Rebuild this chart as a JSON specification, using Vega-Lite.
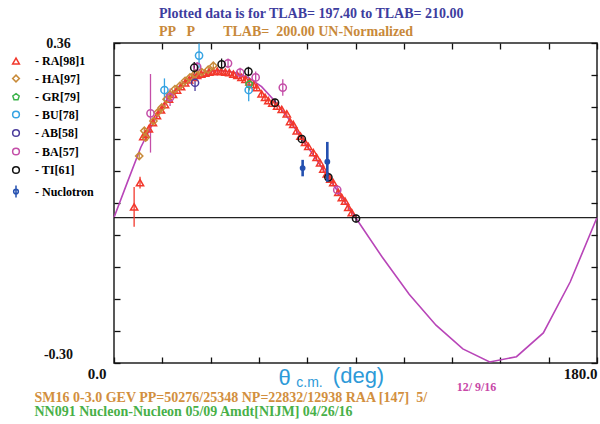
{
  "$schema": "https://vega.github.io/schema/vega-lite/v6.json",
  "width": 483,
  "height": 320,
  "autosize": {"type": "none"},
  "padding": {"left": 114, "top": 43, "right": 3, "bottom": 61},
  "background": "white",
  "title": {
    "text": "Plotted data is for TLAB= 197.40 to TLAB= 210.00",
    "subtitle": "PP\u00a0\u00a0\u00a0P\u00a0\u00a0\u00a0\u00a0\u00a0\u00a0\u00a0\u00a0TLAB=\u00a0\u00a0200.00 UN-Normalized",
    "anchor": "start", "frame": "group", "dx": 45, "offset": -3,
    "font": "Liberation Serif", "fontSize": 14, "fontWeight": "bold", "color": "#3d3d9e",
    "subtitleFont": "Liberation Serif", "subtitleFontSize": 14, "subtitleFontWeight": "bold",
    "subtitleColor": "#c8893a", "subtitlePadding": 4
  },
  "datasets": {
    "curve": [
      {"t": 0, "v": 0.0}, {"t": 5, "v": 0.073}, {"t": 10, "v": 0.145}, {"t": 15, "v": 0.2},
      {"t": 20, "v": 0.245}, {"t": 25, "v": 0.275}, {"t": 30, "v": 0.293}, {"t": 35, "v": 0.302},
      {"t": 40, "v": 0.303}, {"t": 45, "v": 0.299}, {"t": 50, "v": 0.289}, {"t": 55, "v": 0.27},
      {"t": 60, "v": 0.24}, {"t": 65, "v": 0.204}, {"t": 70, "v": 0.163}, {"t": 75, "v": 0.123},
      {"t": 80, "v": 0.082}, {"t": 85, "v": 0.041}, {"t": 90, "v": 0.0}, {"t": 100, "v": -0.082},
      {"t": 110, "v": -0.158}, {"t": 120, "v": -0.222}, {"t": 130, "v": -0.271}, {"t": 140, "v": -0.298},
      {"t": 150, "v": -0.287}, {"t": 160, "v": -0.238}, {"t": 170, "v": -0.133}, {"t": 180, "v": 0.0}
    ],
    "pts": [
      {"set": "RA[98]1", "t": 7.5, "v": 0.022, "lo": -0.019, "hi": 0.063},
      {"set": "RA[98]1", "t": 9.7, "v": 0.072, "lo": 0.06, "hi": 0.084},
      {"set": "RA[98]1", "t": 10.9, "v": 0.167, "lo": 0.161, "hi": 0.173},
      {"set": "RA[98]1", "t": 11.8, "v": 0.172, "lo": 0.166, "hi": 0.178},
      {"set": "RA[98]1", "t": 13.0, "v": 0.183, "lo": 0.177, "hi": 0.189},
      {"set": "RA[98]1", "t": 14.5, "v": 0.196, "lo": 0.19, "hi": 0.202},
      {"set": "RA[98]1", "t": 16.0, "v": 0.21, "lo": 0.204, "hi": 0.216},
      {"set": "RA[98]1", "t": 17.5, "v": 0.222, "lo": 0.216, "hi": 0.228},
      {"set": "RA[98]1", "t": 19.0, "v": 0.233, "lo": 0.227, "hi": 0.239},
      {"set": "RA[98]1", "t": 20.5, "v": 0.244, "lo": 0.238, "hi": 0.25},
      {"set": "RA[98]1", "t": 22.0, "v": 0.254, "lo": 0.248, "hi": 0.26},
      {"set": "RA[98]1", "t": 23.5, "v": 0.263, "lo": 0.257, "hi": 0.269},
      {"set": "RA[98]1", "t": 25.0, "v": 0.27, "lo": 0.264, "hi": 0.276},
      {"set": "RA[98]1", "t": 26.5, "v": 0.278, "lo": 0.272, "hi": 0.284},
      {"set": "RA[98]1", "t": 28.0, "v": 0.284, "lo": 0.278, "hi": 0.29},
      {"set": "RA[98]1", "t": 29.5, "v": 0.289, "lo": 0.283, "hi": 0.295},
      {"set": "RA[98]1", "t": 31.0, "v": 0.293, "lo": 0.287, "hi": 0.299},
      {"set": "RA[98]1", "t": 32.5, "v": 0.296, "lo": 0.29, "hi": 0.302},
      {"set": "RA[98]1", "t": 34.0, "v": 0.298, "lo": 0.292, "hi": 0.304},
      {"set": "RA[98]1", "t": 35.5, "v": 0.3, "lo": 0.294, "hi": 0.306},
      {"set": "RA[98]1", "t": 37.0, "v": 0.301, "lo": 0.295, "hi": 0.307},
      {"set": "RA[98]1", "t": 38.5, "v": 0.302, "lo": 0.296, "hi": 0.308},
      {"set": "RA[98]1", "t": 40.0, "v": 0.301, "lo": 0.295, "hi": 0.307},
      {"set": "RA[98]1", "t": 41.5, "v": 0.3, "lo": 0.294, "hi": 0.306},
      {"set": "RA[98]1", "t": 43.0, "v": 0.299, "lo": 0.293, "hi": 0.305},
      {"set": "RA[98]1", "t": 44.5, "v": 0.296, "lo": 0.29, "hi": 0.302},
      {"set": "RA[98]1", "t": 46.0, "v": 0.293, "lo": 0.287, "hi": 0.299},
      {"set": "RA[98]1", "t": 47.5, "v": 0.289, "lo": 0.283, "hi": 0.295},
      {"set": "RA[98]1", "t": 49.0, "v": 0.285, "lo": 0.279, "hi": 0.291},
      {"set": "RA[98]1", "t": 50.5, "v": 0.28, "lo": 0.274, "hi": 0.286},
      {"set": "RA[98]1", "t": 52.0, "v": 0.274, "lo": 0.268, "hi": 0.28},
      {"set": "RA[98]1", "t": 53.2, "v": 0.268, "lo": 0.262, "hi": 0.274},
      {"set": "RA[98]1", "t": 55.0, "v": 0.255, "lo": 0.249, "hi": 0.261},
      {"set": "RA[98]1", "t": 56.3, "v": 0.248, "lo": 0.242, "hi": 0.254},
      {"set": "RA[98]1", "t": 57.5, "v": 0.241, "lo": 0.235, "hi": 0.247},
      {"set": "RA[98]1", "t": 59.0, "v": 0.236, "lo": 0.23, "hi": 0.242},
      {"set": "RA[98]1", "t": 60.8, "v": 0.23, "lo": 0.224, "hi": 0.236},
      {"set": "RA[98]1", "t": 62.5, "v": 0.223, "lo": 0.217, "hi": 0.229},
      {"set": "RA[98]1", "t": 64.4, "v": 0.214, "lo": 0.208, "hi": 0.22},
      {"set": "RA[98]1", "t": 65.6, "v": 0.198, "lo": 0.192, "hi": 0.204},
      {"set": "RA[98]1", "t": 66.8, "v": 0.192, "lo": 0.186, "hi": 0.198},
      {"set": "RA[98]1", "t": 68.1, "v": 0.179, "lo": 0.173, "hi": 0.185},
      {"set": "RA[98]1", "t": 69.5, "v": 0.168, "lo": 0.162, "hi": 0.174},
      {"set": "RA[98]1", "t": 71.2, "v": 0.155, "lo": 0.149, "hi": 0.161},
      {"set": "RA[98]1", "t": 72.4, "v": 0.147, "lo": 0.141, "hi": 0.153},
      {"set": "RA[98]1", "t": 74.3, "v": 0.134, "lo": 0.128, "hi": 0.14},
      {"set": "RA[98]1", "t": 75.5, "v": 0.124, "lo": 0.118, "hi": 0.13},
      {"set": "RA[98]1", "t": 76.8, "v": 0.113, "lo": 0.107, "hi": 0.119},
      {"set": "RA[98]1", "t": 78.0, "v": 0.1, "lo": 0.094, "hi": 0.106},
      {"set": "RA[98]1", "t": 79.3, "v": 0.09, "lo": 0.084, "hi": 0.096},
      {"set": "RA[98]1", "t": 80.6, "v": 0.079, "lo": 0.073, "hi": 0.085},
      {"set": "RA[98]1", "t": 81.7, "v": 0.072, "lo": 0.066, "hi": 0.078},
      {"set": "RA[98]1", "t": 83.6, "v": 0.052, "lo": 0.046, "hi": 0.058},
      {"set": "RA[98]1", "t": 84.9, "v": 0.041, "lo": 0.035, "hi": 0.047},
      {"set": "RA[98]1", "t": 86.1, "v": 0.034, "lo": 0.028, "hi": 0.04},
      {"set": "RA[98]1", "t": 87.3, "v": 0.021, "lo": 0.015, "hi": 0.027},
      {"set": "RA[98]1", "t": 88.6, "v": 0.01, "lo": 0.004, "hi": 0.016},
      {"set": "HA[97]", "t": 9.4, "v": 0.127, "lo": 0.121, "hi": 0.133},
      {"set": "HA[97]", "t": 11.3, "v": 0.179, "lo": 0.173, "hi": 0.185},
      {"set": "HA[97]", "t": 11.8, "v": 0.165, "lo": 0.159, "hi": 0.171},
      {"set": "HA[97]", "t": 14.7, "v": 0.199, "lo": 0.193, "hi": 0.205},
      {"set": "HA[97]", "t": 16.3, "v": 0.217, "lo": 0.211, "hi": 0.223},
      {"set": "HA[97]", "t": 17.8, "v": 0.227, "lo": 0.221, "hi": 0.233},
      {"set": "HA[97]", "t": 19.6, "v": 0.244, "lo": 0.238, "hi": 0.25},
      {"set": "HA[97]", "t": 20.9, "v": 0.254, "lo": 0.248, "hi": 0.26},
      {"set": "HA[97]", "t": 22.7, "v": 0.265, "lo": 0.259, "hi": 0.271},
      {"set": "HA[97]", "t": 24.6, "v": 0.272, "lo": 0.266, "hi": 0.278},
      {"set": "HA[97]", "t": 26.5, "v": 0.282, "lo": 0.276, "hi": 0.288},
      {"set": "HA[97]", "t": 28.3, "v": 0.289, "lo": 0.283, "hi": 0.295},
      {"set": "HA[97]", "t": 30.2, "v": 0.296, "lo": 0.29, "hi": 0.302},
      {"set": "HA[97]", "t": 32.7, "v": 0.3, "lo": 0.294, "hi": 0.306},
      {"set": "HA[97]", "t": 35.1, "v": 0.305, "lo": 0.299, "hi": 0.311},
      {"set": "HA[97]", "t": 37.0, "v": 0.313, "lo": 0.307, "hi": 0.319},
      {"set": "GR[79]", "t": 50.4, "v": 0.275, "lo": 0.262, "hi": 0.288},
      {"set": "BU[78]", "t": 18.8, "v": 0.263, "lo": 0.239, "hi": 0.287},
      {"set": "BU[78]", "t": 31.7, "v": 0.334, "lo": 0.309, "hi": 0.359},
      {"set": "BU[78]", "t": 50.2, "v": 0.263, "lo": 0.24, "hi": 0.286},
      {"set": "AB[58]", "t": 30.2, "v": 0.278, "lo": 0.261, "hi": 0.295},
      {"set": "BA[57]", "t": 13.6, "v": 0.215, "lo": 0.134, "hi": 0.296},
      {"set": "BA[57]", "t": 20.9, "v": 0.248, "lo": 0.23, "hi": 0.266},
      {"set": "BA[57]", "t": 31.0, "v": 0.311, "lo": 0.301, "hi": 0.321},
      {"set": "BA[57]", "t": 42.5, "v": 0.318, "lo": 0.308, "hi": 0.328},
      {"set": "BA[57]", "t": 47.0, "v": 0.299, "lo": 0.289, "hi": 0.309},
      {"set": "BA[57]", "t": 52.8, "v": 0.289, "lo": 0.277, "hi": 0.301},
      {"set": "BA[57]", "t": 62.9, "v": 0.268, "lo": 0.251, "hi": 0.285},
      {"set": "BA[57]", "t": 83.2, "v": 0.057, "lo": 0.047, "hi": 0.067},
      {"set": "TI[61]", "t": 29.9, "v": 0.309, "lo": 0.297, "hi": 0.321},
      {"set": "TI[61]", "t": 40.1, "v": 0.316, "lo": 0.304, "hi": 0.328},
      {"set": "TI[61]", "t": 50.1, "v": 0.301, "lo": 0.291, "hi": 0.311},
      {"set": "TI[61]", "t": 60.0, "v": 0.237, "lo": 0.229, "hi": 0.245},
      {"set": "TI[61]", "t": 70.0, "v": 0.162, "lo": 0.154, "hi": 0.17},
      {"set": "TI[61]", "t": 79.9, "v": 0.083, "lo": 0.075, "hi": 0.091},
      {"set": "TI[61]", "t": 90.2, "v": -0.002, "lo": -0.01, "hi": 0.006}
    ],
    "nuc": [
      {"set": "Nuclotron", "t": 70.3, "v": 0.102, "lo": 0.085, "hi": 0.119},
      {"set": "Nuclotron", "t": 79.5, "v": 0.115, "lo": 0.074, "hi": 0.156}
    ]
  },
  "layer": [
    {
      "data": {"name": "curve"},
      "mark": {"type": "line", "color": "#b845b8", "strokeWidth": 1.6},
      "encoding": {
        "x": {
          "field": "t", "type": "quantitative",
          "scale": {"domain": [0, 180], "nice": false, "zero": false},
          "axis": {
            "orient": "bottom",
            "values": [0, 18, 36, 54, 72, 90, 108, 126, 144, 162, 180],
            "tickSize": -6,
            "labelExpr": "datum.value == 180 ? '180.0' : ''",
            "labelAlign": "right", "labelBaseline": "top", "labelFontSize": 15,
            "labelPadding": 9, "labelOverlap": false, "labelFlush": false,
            "title": "θ",
            "titleFont": "Liberation Sans", "titleFontSize": 22, "titleFontWeight": "normal",
            "titleColor": "#2d9ad8", "titleX": 170, "titleY": 21,
            "titleAlign": "center", "titleBaseline": "alphabetic", "titleAngle": 0
          }
        },
        "y": {
          "field": "v", "type": "quantitative",
          "scale": {"domain": [-0.3, 0.36], "nice": false, "zero": false},
          "axis": {
            "orient": "left",
            "values": [-0.3, -0.234, -0.168, -0.102, -0.036, 0.03, 0.096, 0.162, 0.228, 0.294, 0.36],
            "tickSize": -6,
            "labelExpr": "datum.value == 0.36 ? '0.36' : ''",
            "labelAlign": "center", "labelBaseline": "middle", "labelFontSize": 14,
            "labelPadding": 62, "labelOverlap": false, "labelFlush": false,
            "title": null
          }
        }
      }
    },
    {
      "data": {"values": [{}]},
      "mark": {"type": "rule", "color": "#222222", "strokeWidth": 1.3},
      "encoding": {
        "x": {
          "datum": 0, "type": "quantitative",
          "scale": {"domain": [0, 180], "nice": false, "zero": false},
          "axis": {
            "orient": "top", "values": [0, 18, 36, 54, 72, 90, 108, 126, 144, 162, 180], "tickSize": -6, "labels": false,
            "title": "12/ 9/16", "titleFont": "Liberation Serif", "titleFontSize": 12, "titleFontWeight": "bold",
            "titleColor": "#c848a8", "titleX": 362, "titleY": 347, "titleAlign": "center", "titleBaseline": "alphabetic"
          }
        },
        "x2": {"datum": 180},
        "y": {
          "datum": 0, "type": "quantitative",
          "scale": {"domain": [-0.3, 0.36], "nice": false, "zero": false},
          "axis": {"orient": "right", "values": [-0.3, -0.234, -0.168, -0.102, -0.036, 0.03, 0.096, 0.162, 0.228, 0.294, 0.36], "tickSize": -6, "labels": false, "title": null}
        }
      }
    },
    {
      "data": {"name": "pts"},
      "mark": {"type": "rule", "strokeWidth": 1.3},
      "encoding": {
        "x": {
          "field": "t", "type": "quantitative",
          "scale": {"domain": [0, 180], "nice": false, "zero": false},
          "axis": {
            "orient": "bottom", "values": [0], "ticks": false,
            "labelExpr": "'0.0'", "labelAlign": "right", "labelBaseline": "top", "labelFontSize": 15,
            "labelPadding": 3, "labelOffset": -8, "labelFlush": false, "labelOverlap": false,
            "title": "c.m.", "titleFont": "Liberation Sans", "titleFontSize": 14, "titleFontWeight": "normal",
            "titleColor": "#2d9ad8", "titleX": 195, "titleY": 23, "titleAlign": "center", "titleBaseline": "alphabetic"
          }
        },
        "y": {
          "field": "lo", "type": "quantitative",
          "scale": {"domain": [-0.3, 0.36], "nice": false, "zero": false},
          "axis": {
            "orient": "left", "values": [-0.3], "ticks": false,
            "labelExpr": "'-0.30'", "labelAlign": "center", "labelBaseline": "middle", "labelFontSize": 14,
            "labelPadding": 56, "labelOffset": -9, "labelFlush": false, "labelOverlap": false, "title": null
          }
        },
        "y2": {"field": "hi"},
        "stroke": {
          "field": "set", "type": "nominal",
          "scale": {
            "domain": ["TI[61]", "RA[98]1", "HA[97]", "GR[79]", "BU[78]", "AB[58]", "BA[57]", "Nuclotron"],
            "range": ["#111111", "#f2382c", "#c88a38", "#3bb34a", "#35a3e3", "#4b3c9c", "#c44ea8", "#2450b0"]
          },
          "legend": null
        }
      }
    },
    {
      "data": {"name": "pts"},
      "mark": {"type": "point", "filled": false, "strokeWidth": 1.5, "size": 52, "opacity": 1},
      "encoding": {
        "x": {
          "field": "t", "type": "quantitative",
          "scale": {"domain": [0, 180], "nice": false, "zero": false},
          "axis": {
            "orient": "bottom", "ticks": false, "labels": false,
            "title": "(deg)", "titleFont": "Liberation Sans", "titleFontSize": 22, "titleFontWeight": "normal",
            "titleColor": "#2d9ad8", "titleX": 244, "titleY": 19, "titleAlign": "center", "titleBaseline": "alphabetic"
          }
        },
        "y": {
          "field": "v", "type": "quantitative",
          "scale": {"domain": [-0.3, 0.36], "nice": false, "zero": false},
          "axis": null
        },
        "color": {
          "field": "set", "type": "nominal",
          "scale": {
            "domain": ["RA[98]1", "HA[97]", "GR[79]", "BU[78]", "AB[58]", "BA[57]", "TI[61]", "Nuclotron"],
            "range": ["#f2382c", "#c88a38", "#3bb34a", "#35a3e3", "#4b3c9c", "#c44ea8", "#111111", "#2450b0"]
          },
          "legend": {
            "orient": "none", "legendX": -104, "legendY": 12, "title": null,
            "labelExpr": "'- ' + datum.label",
            "labelFont": "Liberation Serif", "labelFontWeight": "bold", "labelFontSize": 12,
            "symbolSize": 45, "symbolStrokeWidth": 1.5, "rowPadding": 4.5, "labelOffset": 13,
            "encode": {
              "labels": {"update": {
                "fill": {"scale": "color", "field": "value"},
                "font": {"signal": "datum.value === 'Nuclotron' ? 'DejaVu Sans' : 'Liberation Serif'"}
              }},
              "symbols": {"update": {
                "fill": {"signal": "datum.value === 'Nuclotron' ? '#2450b0' : 'transparent'"}
              }}
            }
          }
        },
        "shape": {
          "field": "set", "type": "nominal",
          "scale": {
            "domain": ["RA[98]1", "HA[97]", "GR[79]", "BU[78]", "AB[58]", "BA[57]", "TI[61]", "Nuclotron"],
            "range": ["triangle-up", "diamond", "M0,-1L0.951,-0.309L0.588,0.809L-0.588,0.809L-0.951,-0.309Z", "circle", "circle", "circle", "circle", "M0,-1.8V1.8M-0.7,0A0.7,0.7,0,1,0,0.7,0A0.7,0.7,0,1,0,-0.7,0Z"]
          },
          "legend": {
            "orient": "none", "legendX": -104, "legendY": 12, "title": null,
            "labelExpr": "'- ' + datum.label",
            "labelFont": "Liberation Serif", "labelFontWeight": "bold", "labelFontSize": 12,
            "symbolSize": 45, "symbolStrokeWidth": 1.5, "rowPadding": 4.5, "labelOffset": 13,
            "encode": {
              "labels": {"update": {
                "fill": {"scale": "color", "field": "value"},
                "font": {"signal": "datum.value === 'Nuclotron' ? 'DejaVu Sans' : 'Liberation Serif'"}
              }},
              "symbols": {"update": {
                "fill": {"signal": "datum.value === 'Nuclotron' ? '#2450b0' : 'transparent'"}
              }}
            }
          }
        }
      }
    },
    {
      "data": {"name": "nuc"},
      "mark": {"type": "rule", "strokeWidth": 2.6, "color": "#2450b0"},
      "encoding": {
        "x": {
          "field": "t", "type": "quantitative",
          "scale": {"domain": [0, 180], "nice": false, "zero": false},
          "axis": {
            "orient": "bottom", "ticks": false, "labels": false,
            "title": "SM16 0-3.0 GEV PP=50276/25348 NP=22832/12938 RAA [147]\u00a0 5/",
            "titleFont": "Liberation Serif", "titleFontSize": 14, "titleFontWeight": "bold",
            "titleColor": "#d28f3e", "titleX": -80, "titleY": 38, "titleAlign": "left", "titleBaseline": "alphabetic"
          }
        },
        "y": {
          "field": "lo", "type": "quantitative",
          "scale": {"domain": [-0.3, 0.36], "nice": false, "zero": false},
          "axis": null
        },
        "y2": {"field": "hi"}
      }
    },
    {
      "data": {"name": "nuc"},
      "mark": {"type": "point", "filled": true, "size": 34, "color": "#2450b0", "opacity": 1},
      "encoding": {
        "x": {
          "field": "t", "type": "quantitative",
          "scale": {"domain": [0, 180], "nice": false, "zero": false},
          "axis": {
            "orient": "bottom", "ticks": false, "labels": false,
            "title": "NN091 Nucleon-Nucleon 05/09 Amdt[NIJM] 04/26/16",
            "titleFont": "Liberation Serif", "titleFontSize": 14, "titleFontWeight": "bold",
            "titleColor": "#48b048", "titleX": -80, "titleY": 52, "titleAlign": "left", "titleBaseline": "alphabetic"
          }
        },
        "y": {
          "field": "v", "type": "quantitative",
          "scale": {"domain": [-0.3, 0.36], "nice": false, "zero": false},
          "axis": null
        }
      }
    }
  ],
  "resolve": {"axis": {"x": "independent", "y": "independent"}},
  "config": {
    "view": {"stroke": "#222222", "strokeWidth": 1.5},
    "axis": {
      "grid": false, "domain": false, "tickColor": "#111111", "tickWidth": 1.3,
      "labelFont": "Liberation Serif", "labelFontWeight": "bold", "labelColor": "#111111"
    }
  }
}
